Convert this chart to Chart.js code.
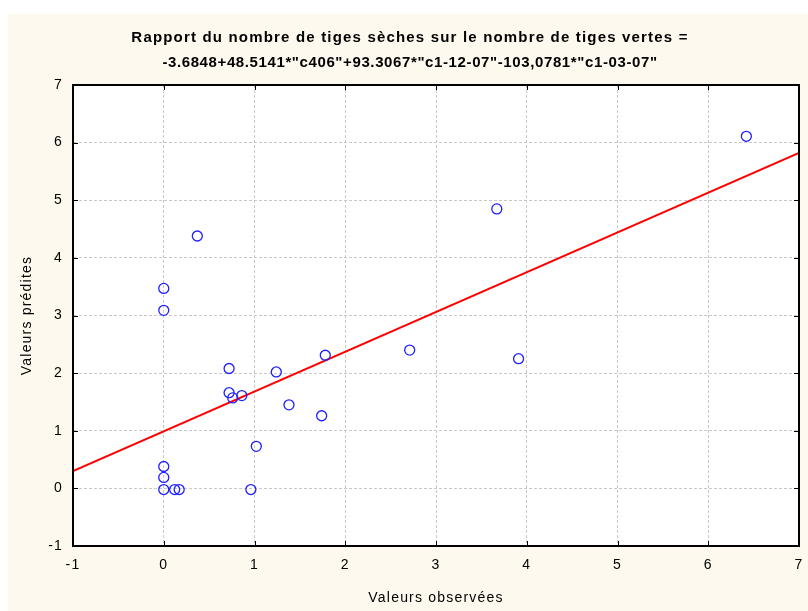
<!DOCTYPE html>
<html>
<head>
<meta charset="utf-8">
<script src="https://cdn.jsdelivr.net/npm/chart.js@4/dist/chart.umd.min.js"></script>
<style>
html,body{margin:0;padding:0;background:#ffffff;}
canvas{display:block;}
</style>
</head>
<body>
<canvas id="c" width="808" height="611"></canvas>
<script>
// ---- data ----
const titleLines = [
  'Rapport du nombre de tiges sèches sur le nombre de tiges vertes =',
  '-3.6848+48.5141*"c406"+93.3067*"c1-12-07"-103,0781*"c1-03-07"'
];
const xAxisTitle = 'Valeurs observées';
const yAxisTitle = 'Valeurs prédites';
const observed  = [6.42, 3.67, 0.37, 0.00, 0.00, 0.72, 1.24, 1.78, 2.71, 3.91, 0.72, 0.76, 0.86, 1.38, 1.74, 1.02, 0.00, 0.00, 0.00, 0.12, 0.17, 0.96];
const predicted = [6.11, 4.85, 4.38, 3.47, 3.09, 2.08, 2.02, 2.31, 2.40, 2.25, 1.66, 1.57, 1.61, 1.45, 1.26, 0.73, 0.38, 0.19, -0.02, -0.02, -0.02, -0.02];
const fitX = [-1, 7];
const fitY = [0.30, 5.82];
const axisMin = -1, axisMax = 7;

const CREAM = '#fef9ee';

const bgPlugin = {
  id: 'bg',
  beforeDraw(chart) {
    const ctx = chart.ctx, a = chart.chartArea;
    ctx.save();
    ctx.fillStyle = '#ffffff';
    ctx.fillRect(0, 0, chart.width, chart.height);
    ctx.fillStyle = CREAM;
    ctx.fillRect(8, 14, chart.width - 8, chart.height - 14);
    ctx.fillStyle = '#ffffff';
    ctx.fillRect(a.left, a.top, a.right - a.left, a.bottom - a.top);
    ctx.restore();
    // slightly spaced lettering, as in the original axis texts
    ctx.letterSpacing = '1.2px';
  }
};

const titlePlugin = {
  id: 'twoLineTitle',
  afterDraw(chart) {
    const ctx = chart.ctx;
    const specs = [{y: 38, w: 557}, {y: 63, w: 495}];
    ctx.save();
    ctx.font = 'bold 15px "Liberation Sans", Arial, sans-serif';
    ctx.fillStyle = '#000';
    ctx.textBaseline = 'middle';
    ctx.textAlign = 'left';
    titleLines.forEach((t, i) => {
      ctx.letterSpacing = '0px';
      const m = ctx.measureText(t).width;
      const ls = (specs[i].w - m) / t.length;
      ctx.letterSpacing = ls.toFixed(2) + 'px';
      const w = ctx.measureText(t).width;
      ctx.fillText(t, 410 - w / 2, specs[i].y);
    });
    ctx.restore();
  }
};

const framePlugin = {
  id: 'frame',
  afterDatasetsDraw(chart) {
    const ctx = chart.ctx, a = chart.chartArea;
    const xs = chart.scales.x, ys = chart.scales.y;
    ctx.save();
    ctx.strokeStyle = '#000';
    ctx.lineWidth = 1;
    ctx.beginPath();
    xs.ticks.forEach(t => {
      const p = Math.round(xs.getPixelForValue(t.value)) + 0.5;
      ctx.moveTo(p, a.bottom); ctx.lineTo(p, a.bottom - 5);
      ctx.moveTo(p, a.top); ctx.lineTo(p, a.top + 5);
    });
    ys.ticks.forEach(t => {
      const p = Math.round(ys.getPixelForValue(t.value)) + 0.5;
      ctx.moveTo(a.left, p); ctx.lineTo(a.left + 5, p);
      ctx.moveTo(a.right, p); ctx.lineTo(a.right - 5, p);
    });
    ctx.stroke();
    ctx.lineWidth = 2;
    ctx.strokeRect(a.left, a.top, a.right - a.left, a.bottom - a.top);
    ctx.restore();
  }
};

const tickFont = {family: '"Liberation Sans", Arial, sans-serif', size: 14};
const gridOpts = {
  color: '#c8c8c8',
  lineWidth: 1,
  drawTicks: false
};

new Chart(document.getElementById('c'), {
  type: 'scatter',
  data: {
    datasets: [
      {
        type: 'line',
        data: fitX.map((x, i) => ({x: x, y: fitY[i]})),
        borderColor: '#ff0000',
        borderWidth: 2,
        pointRadius: 0,
        fill: false,
        order: 2
      },
      {
        data: observed.map((x, i) => ({x: x, y: predicted[i]})),
        borderColor: '#1f1fff',
        backgroundColor: 'rgba(0,0,0,0)',
        borderWidth: 1.3,
        pointRadius: 5,
        pointStyle: 'circle',
        order: 1
      }
    ]
  },
  options: {
    responsive: false,
    animation: false,
    devicePixelRatio: 1,
    layout: {padding: {left: 0, top: 85, right: 9, bottom: 0}},
    plugins: {
      legend: {display: false},
      title: {display: false},
      tooltip: {enabled: false}
    },
    scales: {
      x: {
        type: 'linear',
        min: axisMin, max: axisMax,
        ticks: {stepSize: 1, color: '#000', font: tickFont, padding: 11, maxRotation: 0},
        grid: Object.assign({}, gridOpts),
        border: {display: true, color: 'rgba(0,0,0,0)', dash: [3, 2]},
        title: {display: true, text: xAxisTitle, color: '#000', font: tickFont, padding: {top: 0, bottom: 4}},
        afterFit(s) { s.height = 65; s.paddingLeft = 4; s.paddingRight = 4; }
      },
      y: {
        type: 'linear',
        min: axisMin, max: axisMax,
        ticks: {stepSize: 1, color: '#000', font: tickFont, padding: 10},
        grid: Object.assign({}, gridOpts),
        border: {display: true, color: 'rgba(0,0,0,0)', dash: [3, 2]},
        title: {display: true, text: yAxisTitle, color: '#000', font: tickFont, padding: {top: 19, bottom: 0}},
        afterFit(s) { s.width = 73; s.paddingTop = 4; s.paddingBottom = 4; }
      }
    }
  },
  plugins: [bgPlugin, titlePlugin, framePlugin]
});
</script>
</body>
</html>
